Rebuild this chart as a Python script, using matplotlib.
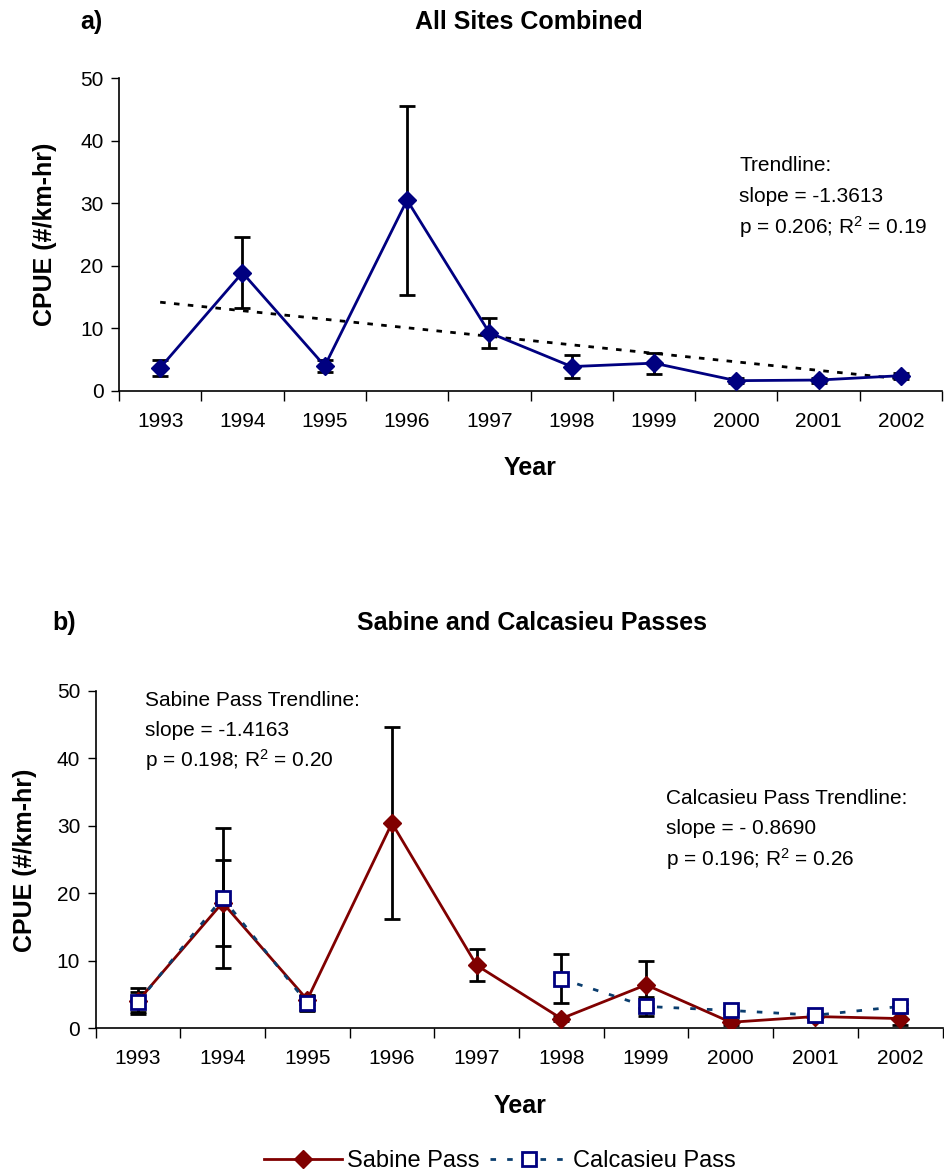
import numpy as np
import matplotlib
matplotlib.use("Agg")
import matplotlib.pyplot as plt

plt.rcParams['font.family'] = ['Liberation Sans', 'DejaVu Sans']
plt.rcParams['mathtext.fontset'] = 'custom'
plt.rcParams['mathtext.rm'] = 'Liberation Sans'
plt.rcParams['mathtext.default'] = 'regular'

years = ['1993', '1994', '1995', '1996', '1997', '1998', '1999', '2000', '2001', '2002']

# all sites combined: mean CPUE and error
all_cpue = [3.7, 18.9, 4.0, 30.5, 9.3, 3.9, 4.45, 1.65, 1.75, 2.45]
all_err = [1.3, 5.7, 1.0, 15.1, 2.4, 1.85, 1.7, 0.4, 0.4, 0.5]
all_slope = -1.3613

# Sabine Pass and Calcasieu Pass
sabine_cpue = [4.0, 18.6, 4.2, 30.4, 9.3, 1.4, 6.4, 0.85, 1.7, 1.4]
sabine_err = [1.9, 6.4, 0.6, 14.2, 2.35, 0.4, 3.5, 0.4, 0.3, 0.9]
calc_cpue = [3.8, 19.3, 3.7, np.nan, np.nan, 7.3, 3.2, 2.6, 1.9, 3.2]
calc_err = [1.5, 10.4, 1.2, np.nan, np.nan, 3.65, 1.4, 0.4, 0.3, 0.4]

NAVY = '#000080'
MAROON = '#800000'
CALC_LINE = '#0a3d6e'

TICK_FS = 15
LABEL_FS = 18
NOTE_FS = 15
LEGEND_FS = 17

W, H = 944, 1174
fig = plt.figure(figsize=(W / 100, H / 100), dpi=100)


def fx(px):
    return px / W


def fy(py):
    return 1 - py / H


def style_axes(ax):
    x = np.arange(len(years))
    ax.set_xlim(-0.5, len(years) - 0.5)
    ax.set_ylim(0, 50)
    ax.set_yticks(range(0, 51, 10))
    ax.set_xticks(np.arange(-0.5, len(years), 1.0))
    ax.set_xticklabels([])
    ax.set_xticks(x, minor=True)
    ax.set_xticklabels(years, minor=True)
    ax.tick_params(axis='x', which='major', length=7, width=1, direction='out')
    ax.tick_params(axis='x', which='minor', length=0, pad=15, labelsize=TICK_FS)
    ax.tick_params(axis='y', length=6, width=1, direction='out', pad=5,
                   labelsize=TICK_FS)
    for s in ['top', 'right']:
        ax.spines[s].set_visible(False)
    for s in ['left', 'bottom']:
        ax.spines[s].set_linewidth(1.2)
    return x


# ---- a) all sites combined
ax1 = fig.add_axes([fx(119), fy(391), fx(823), (391 - 78) / H])
x = style_axes(ax1)
ax1.errorbar(x, all_cpue, yerr=all_err, fmt='none', ecolor='black',
             elinewidth=2, capsize=5.5, capthick=2, zorder=2)
ax1.plot(x, all_cpue, color=NAVY, lw=2, marker='D', ms=9, zorder=3)
icpt = np.mean(all_cpue) - all_slope * np.mean(x)
ax1.plot(x, icpt + all_slope * x, color='black', lw=2, ls=(0, (2, 3)), zorder=1)

fig.text(fx(80), fy(22), 'a)', fontsize=LABEL_FS, fontweight='bold', va='center')
fig.text(fx(529), fy(22), 'All Sites Combined', fontsize=LABEL_FS,
         fontweight='bold', ha='center', va='center')
fig.text(fx(45), fy(234), 'CPUE (#/km-hr)', fontsize=LABEL_FS, fontweight='bold',
         rotation=90, ha='center', va='center')
fig.text(fx(530), fy(468), 'Year', fontsize=LABEL_FS, fontweight='bold',
         ha='center', va='center')
for i, line in enumerate(['Trendline:', 'slope = -1.3613',
                          'p = 0.206; R$^2$ = 0.19']):
    fig.text(fx(739), fy(165 + 31 * i), line, fontsize=NOTE_FS, va='center')

# ---- b) Sabine and Calcasieu Passes
ax2 = fig.add_axes([fx(95.5), fy(1028), fx(847), (1028 - 691) / H])
x = style_axes(ax2)
ax2.errorbar(x, sabine_cpue, yerr=sabine_err, fmt='none', ecolor='black',
             elinewidth=2, capsize=5.5, capthick=2, zorder=2)
ax2.errorbar(x, calc_cpue, yerr=calc_err, fmt='none', ecolor='black',
             elinewidth=2, capsize=5.5, capthick=2, zorder=2)
ax2.plot(x, sabine_cpue, color=MAROON, lw=2, marker='D', ms=9, zorder=3,
         label='Sabine Pass')
ax2.plot(x, calc_cpue, color=CALC_LINE, lw=2, ls=(0, (2, 4)), marker='s', ms=10,
         mfc='white', mec=NAVY, mew=2, zorder=4, label='Calcasieu Pass')

fig.text(fx(52), fy(623), 'b)', fontsize=LABEL_FS, fontweight='bold', va='center')
fig.text(fx(532), fy(623), 'Sabine and Calcasieu Passes', fontsize=LABEL_FS,
         fontweight='bold', ha='center', va='center')
fig.text(fx(25), fy(860), 'CPUE (#/km-hr)', fontsize=LABEL_FS, fontweight='bold',
         rotation=90, ha='center', va='center')
fig.text(fx(520), fy(1106), 'Year', fontsize=LABEL_FS, fontweight='bold',
         ha='center', va='center')
for i, line in enumerate(['Sabine Pass Trendline:', 'slope = -1.4163',
                          'p = 0.198; R$^2$ = 0.20']):
    fig.text(fx(145), fy(700 + 30 * i), line, fontsize=NOTE_FS, va='center')
for i, line in enumerate(['Calcasieu Pass Trendline:', 'slope = - 0.8690',
                          'p = 0.196; R$^2$ = 0.26']):
    fig.text(fx(666), fy(799 + 30 * i), line, fontsize=NOTE_FS, va='center')

fig.legend(loc='center', bbox_to_anchor=(fx(500), fy(1161)), ncol=2,
           frameon=False, fontsize=LEGEND_FS, handlelength=3.3,
           columnspacing=0.45, handletextpad=0.2, borderpad=0, borderaxespad=0)

fig.savefig('out.png', dpi=100)
